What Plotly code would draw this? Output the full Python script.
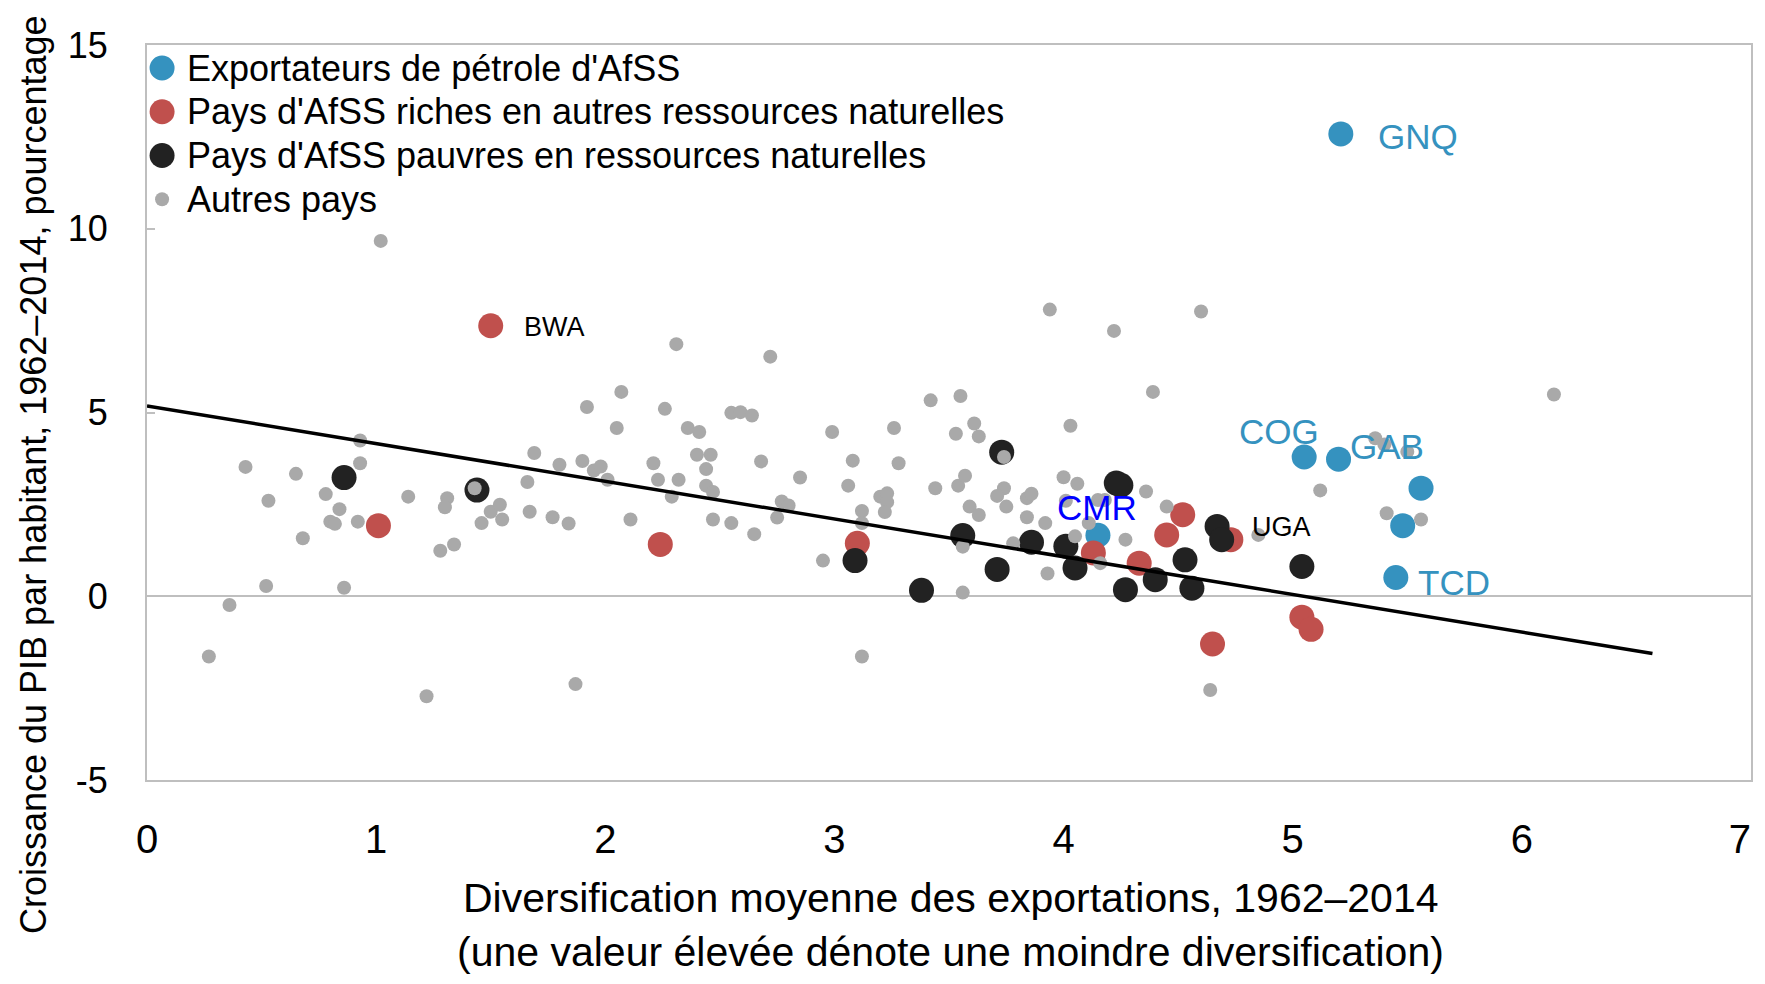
import plotly.graph_objects as go

# --- data --------------------------------------------------------------
# Exportateurs de pétrole d'AfSS
oil_x = [5.21, 5.05, 5.20, 5.56, 5.48, 5.45, 4.15]
oil_y = [12.58, 3.79, 3.73, 2.94, 1.92, 0.51, 1.66]
oil_codes = ["GNQ", "COG", "GAB", "", "", "TCD", "CMR"]

# Pays d'AfSS riches en autres ressources naturelles
rich_x = [1.50, 1.01, 2.24, 3.10, 4.13, 4.33, 4.45, 4.52, 4.73, 4.65, 5.04, 5.08]
rich_y = [7.36, 1.92, 1.41, 1.44, 1.18, 0.90, 1.67, 2.22, 1.54, -1.30, -0.57, -0.90]
rich_codes = ["BWA", "", "", "", "", "", "", "", "", "", "", ""]

# Pays d'AfSS pauvres en ressources naturelles
poor_x = [0.86, 1.44, 3.09, 3.38, 3.56, 3.71, 3.73, 3.86, 4.01, 4.05,
          4.23, 4.25, 4.27, 4.40, 4.53, 4.56, 4.67, 4.69, 5.04]
poor_y = [3.23, 2.89, 0.97, 0.16, 1.65, 0.73, 3.92, 1.47, 1.36, 0.77,
          3.08, 3.02, 0.18, 0.45, 0.99, 0.22, 1.90, 1.54, 0.81]
poor_codes = ["", "", "", "", "", "", "", "", "", "",
              "", "", "", "", "", "", "UGA", "", ""]

# Autres pays
other_x = [1.02, 2.31, 2.72, 3.94, 4.22, 4.60, 6.14, 4.39,
           2.07, 1.92, 2.26, 2.05, 2.36, 2.41, 2.55, 2.59, 2.64,
           0.93, 0.93, 0.43, 0.65, 0.53, 0.78, 0.84, 0.80, 0.82, 0.92,
           0.68, 0.52, 0.86, 0.36, 0.27, 1.22, 1.87, 1.14, 1.31, 1.30,
           1.43, 1.50, 1.54, 1.46, 1.55, 1.34, 1.28, 1.69, 1.66, 1.67,
           1.77, 1.84, 1.80, 1.90, 1.95, 1.98, 2.01, 2.11, 2.21, 2.23,
           2.32, 2.29, 2.40, 2.46, 2.44, 2.44, 2.47, 2.47, 2.55,
           2.65, 2.68, 2.75, 2.77, 2.80, 2.85, 2.99, 2.95, 3.06, 3.08,
           3.12, 3.12, 3.12, 3.26, 3.28, 3.20, 3.23, 3.23, 3.22, 3.42,
           3.55, 3.53, 3.61, 3.63, 3.44, 3.54, 3.57, 3.59, 3.63, 3.56,
           3.56, 3.74, 3.71, 3.75, 3.74, 3.84, 3.86, 3.84, 3.78, 3.92,
           3.93, 4.00, 4.06, 4.03, 4.01, 4.15, 4.18, 4.11, 4.05, 4.16,
           4.36, 4.27, 4.45, 4.85, 4.64,
           5.36, 5.40, 5.50, 5.12, 5.41, 5.56]
other_y = [9.67, 6.86, 6.52, 7.80, 7.22, 7.75, 5.49, 5.56,
           5.56, 5.15, 5.10, 4.58, 4.58, 4.47, 4.99, 5.01, 4.92,
           4.24, 3.62, 3.52, 3.33, 2.60, 2.78, 2.37, 2.03, 1.97, 2.03,
           1.58, 0.28, 0.23, -0.24, -1.64, -2.72, -2.39, 2.71, 2.67, 2.42,
           2.94, 2.30, 2.49, 1.99, 2.09, 1.41, 1.24, 3.90, 3.11, 2.30,
           2.15, 1.98, 3.58, 3.68, 3.42, 3.53, 3.17, 2.09, 3.62, 3.17,
           3.17, 2.71, 3.85, 3.85, 3.46, 3.01, 2.84, 2.09, 1.99,
           1.69, 3.67, 2.14, 2.58, 2.47, 3.23, 4.47, 0.97, 3.01, 3.69,
           2.32, 1.99, -1.64, 4.58, 3.62, 2.71, 2.80, 2.56, 2.29, 5.33,
           5.45, 4.42, 4.70, 4.35, 2.94, 3.01, 3.28, 2.44, 2.21, 1.35,
           0.10, 2.94, 2.73, 2.44, 3.79, 2.67, 2.79, 2.15, 1.44, 1.99,
           0.62, 3.24, 3.06, 4.64, 2.60, 2.62, 2.62, 1.99, 1.63, 0.90,
           2.85, 1.54, 2.44, 1.67, -2.55,
           4.30, 4.13, 3.93, 2.88, 2.26, 2.09]

# regression line endpoints
trend_x = [0.0, 6.57]
trend_y = [5.18, -1.56]

x_ticks = [0, 1, 2, 3, 4, 5, 6, 7]
# the last label gets two no-break spaces so it stays inside the window
x_ticktext = ["0", "1", "2", "3", "4", "5", "6", "7\u00a0\u00a0"]
y_ticks = [-5, 0, 5, 10, 15]
y_ticktext = ["-5", "0", "5", "10", "15"]

x_title = ["Diversification moyenne des exportations, 1962–2014",
           "(une valeur élevée dénote une moindre diversification)"]
y_title = "Croissance du PIB par habitant, 1962–2014, pourcentage"

FONT = "Liberation Sans, Arial, sans-serif"
BLUE = "#3592bf"
RED = "#c0504d"
BLACK = "#222222"
GREY = "#a9a9a9"
AXIS = "#bfbfbf"

series = [
    ("Exportateurs de pétrole d'AfSS", oil_x, oil_y, oil_codes, BLUE, 25),
    ("Pays d'AfSS riches en autres ressources naturelles", rich_x, rich_y, rich_codes, RED, 25),
    ("Pays d'AfSS pauvres en ressources naturelles", poor_x, poor_y, poor_codes, BLACK, 25),
    ("Autres pays", other_x, other_y, None, GREY, 14),
]

# label styling: (font size, colour, xshift, yshift)
label_style = {
    "GNQ": (35, BLUE, 35, -3),
    "COG": (35, BLUE, -67, 25),
    "GAB": (35, BLUE, 9, 13),
    "TCD": (35, BLUE, 20, -5),
    "CMR": (35, "#0000ff", -43, 28),
    "UGA": (27, "black", 33, -1),
    "BWA": (27, "black", 31, -1),
}

fig = go.Figure()

for name, xs, ys, codes, color, size in series:
    fig.add_trace(go.Scatter(
        x=xs, y=ys, mode="markers", name=name,
        marker=dict(color=color, size=size, line=dict(width=0)),
        showlegend=False,
    ))

fig.add_trace(go.Scatter(
    x=trend_x, y=trend_y, mode="lines",
    line=dict(color="black", width=3.5), showlegend=False,
))

annotations = []
for name, xs, ys, codes, color, size in series:
    if not codes:
        continue
    for cx, cy, code in zip(xs, ys, codes):
        if not code:
            continue
        fsize, fcolor, dx, dy = label_style[code]
        annotations.append(dict(
            x=cx, y=cy, text=code, showarrow=False,
            xanchor="left", yanchor="middle", xshift=dx, yshift=dy,
            font=dict(family=FONT, size=fsize, color=fcolor),
        ))

# hand-made legend (top-left, inside the plot)
shapes = []
leg_top = 0.9687
leg_step = 0.0595
for i, (name, xs, ys, codes, color, size) in enumerate(series):
    ly = leg_top - i * leg_step
    r = size / 2
    shapes.append(dict(
        type="circle", xref="paper", yref="paper",
        xsizemode="pixel", ysizemode="pixel",
        xanchor=0.0094, yanchor=ly, x0=-r, x1=r, y0=-r, y1=r,
        fillcolor=color, line=dict(width=0), layer="above",
    ))
    annotations.append(dict(
        x=0.0237, y=ly, xref="paper", yref="paper", text=name,
        showarrow=False, xanchor="left", yanchor="middle",
        font=dict(family=FONT, size=36, color="black"),
    ))

# axis titles
for line, ty in zip(x_title, [-0.161, -0.234]):
    annotations.append(dict(
        x=0.501, y=ty, xref="paper", yref="paper", text=line,
        showarrow=False, xanchor="center", yanchor="middle",
        font=dict(family=FONT, size=41, color="black"),
    ))
annotations.append(dict(
    x=-0.0704, y=0.415, xref="paper", yref="paper", text=y_title,
    textangle=-90, showarrow=False, xanchor="center", yanchor="middle",
    font=dict(family=FONT, size=36, color="black"),
))

# the page body adds an 8 px margin on every side, so the figure is
# sized to make the whole page exactly fill the window
fig.update_layout(
    width=1749, height=968,
    margin=dict(l=139, r=6, t=37, b=196),
    paper_bgcolor="white", plot_bgcolor="white",
    font=dict(family=FONT, color="black"),
    annotations=annotations,
    shapes=shapes,
    showlegend=False,
)

fig.update_xaxes(
    range=[0, 7], tickvals=x_ticks, ticktext=x_ticktext,
    showgrid=False, zeroline=False,
    showline=True, mirror=True, linecolor=AXIS, linewidth=2,
    ticks="", ticklabelstandoff=23, ticklabeloverflow="allow",
    automargin=False,
    tickfont=dict(family=FONT, size=40, color="black"),
)
fig.update_yaxes(
    range=[-5, 15], tickvals=y_ticks, ticktext=y_ticktext, showgrid=False,
    zeroline=True, zerolinecolor=AXIS, zerolinewidth=2,
    showline=True, mirror=True, linecolor=AXIS, linewidth=2,
    ticks="inside", ticklen=8, tickcolor=AXIS, tickwidth=2,
    ticklabelstandoff=30, automargin=False,
    tickfont=dict(family=FONT, size=36, color="black"),
)

fig.write_html("out.html")
